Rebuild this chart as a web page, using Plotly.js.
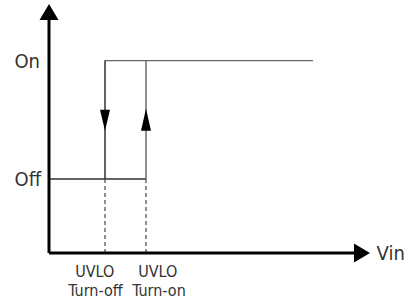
<!DOCTYPE html>
<html>
<head>
<meta charset="utf-8">
<script src="https://cdn.plot.ly/plotly-3.0.1.min.js"></script>
<style>
html,body{margin:0;padding:0;background:#fff;}
#chart{width:412px;height:305px;}
#chart text{font-stretch:condensed;}
</style>
</head>
<body>
<div id="chart"></div>
<script>
// ---- data ----
const levelNames = ['Off', 'On'];
const levelValues = [1, 2.6];
const thresholdLine1 = ['UVLO', 'UVLO'];
const thresholdLine2 = ['Turn-off', 'Turn-on'];
const thresholdVin = [5.6, 9.7];
const onLineEnd = 26.4;
const vinAxisEnd = 32.1;
const stateAxisEnd = 3.365;
const axisTitle = 'Vin';

const FONT = '"DejaVu Sans", sans-serif';
const off = levelValues[0], on = levelValues[1];
const mid = (off + on) / 2;

const traces = [
  {x: [0, thresholdVin[1]], y: [off, off], mode: 'lines', line: {color: '#333', width: 1.3}},
  {x: [thresholdVin[0], onLineEnd], y: [on, on], mode: 'lines', line: {color: '#666', width: 1.4}},
  {x: [thresholdVin[0], thresholdVin[0]], y: [off, on], mode: 'lines', line: {color: '#111', width: 1.3}},
  {x: [thresholdVin[1], thresholdVin[1]], y: [off, on], mode: 'lines', line: {color: '#555', width: 1.3}},
  {x: [thresholdVin[0], thresholdVin[0], null, thresholdVin[1], thresholdVin[1]],
   y: [0, off, null, 0, off], mode: 'lines', line: {color: '#555', width: 1.3, dash: '4px,3px'}},
  {x: [0, 0], y: [0, stateAxisEnd - 0.2], mode: 'lines', line: {color: '#000', width: 3}},
  {x: [0, vinAxisEnd - 1.5], y: [0, 0], mode: 'lines', line: {color: '#000', width: 3}}
];

function pxShape(xa, ya, path) {
  return {type: 'path', xref: 'x', yref: 'y', xsizemode: 'pixel', ysizemode: 'pixel',
    xanchor: xa, yanchor: ya, path: path, fillcolor: '#000', line: {width: 0}};
}

const shapes = [
  pxShape(0, stateAxisEnd, 'M-9.5,-16 L9.5,-16 L0,0 Z'),
  pxShape(vinAxisEnd, 0, 'M-16,-9.5 L-16,9.5 L0,0 Z'),
  pxShape(thresholdVin[0], mid, 'M-5,10 L5,10 L0,-11 Z'),
  pxShape(thresholdVin[1], mid, 'M-5,-11 L5,-11 L0,11 Z')
];

const annotations = levelNames.map((n, i) => ({
  x: -3.4, y: levelValues[i], xref: 'x', yref: 'y', text: n, showarrow: false,
  xanchor: 'left', yanchor: 'middle', xshift: -4, font: {family: FONT, size: 20, color: '#333'}
}));
annotations.push({x: vinAxisEnd, y: 0, xref: 'x', yref: 'y', text: axisTitle, showarrow: false,
  xanchor: 'left', yanchor: 'middle', xshift: 3, font: {family: FONT, size: 20, color: '#333'}});
const labelShift = [-10, 12];
thresholdVin.forEach((v, i) => {
  annotations.push({
    x: v, y: 0, xref: 'x', yref: 'y', text: thresholdLine1[i], showarrow: false,
    xanchor: 'center', yanchor: 'middle', yshift: -18, xshift: labelShift[i],
    font: {family: FONT, size: 16, color: '#333'}
  });
  annotations.push({
    x: v, y: 0, xref: 'x', yref: 'y', text: thresholdLine2[i], showarrow: false,
    xanchor: 'center', yanchor: 'middle', yshift: -37, xshift: labelShift[i],
    font: {family: FONT, size: 16, color: '#333'}
  });
});

const layout = {
  width: 412, height: 305,
  margin: {l: 0, r: 0, t: 0, b: 0, pad: 0},
  paper_bgcolor: '#fff', plot_bgcolor: '#fff',
  showlegend: false,
  xaxis: {range: [-4.9, 36.3], showgrid: false, zeroline: false, showline: false,
    showticklabels: false, fixedrange: true},
  yaxis: {range: [-0.7027, 3.419], showgrid: false, zeroline: false, showline: false,
    showticklabels: false, fixedrange: true},
  shapes: shapes,
  annotations: annotations
};

Plotly.newPlot('chart', traces, layout, {displayModeBar: false, staticPlot: true});
</script>
</body>
</html>
